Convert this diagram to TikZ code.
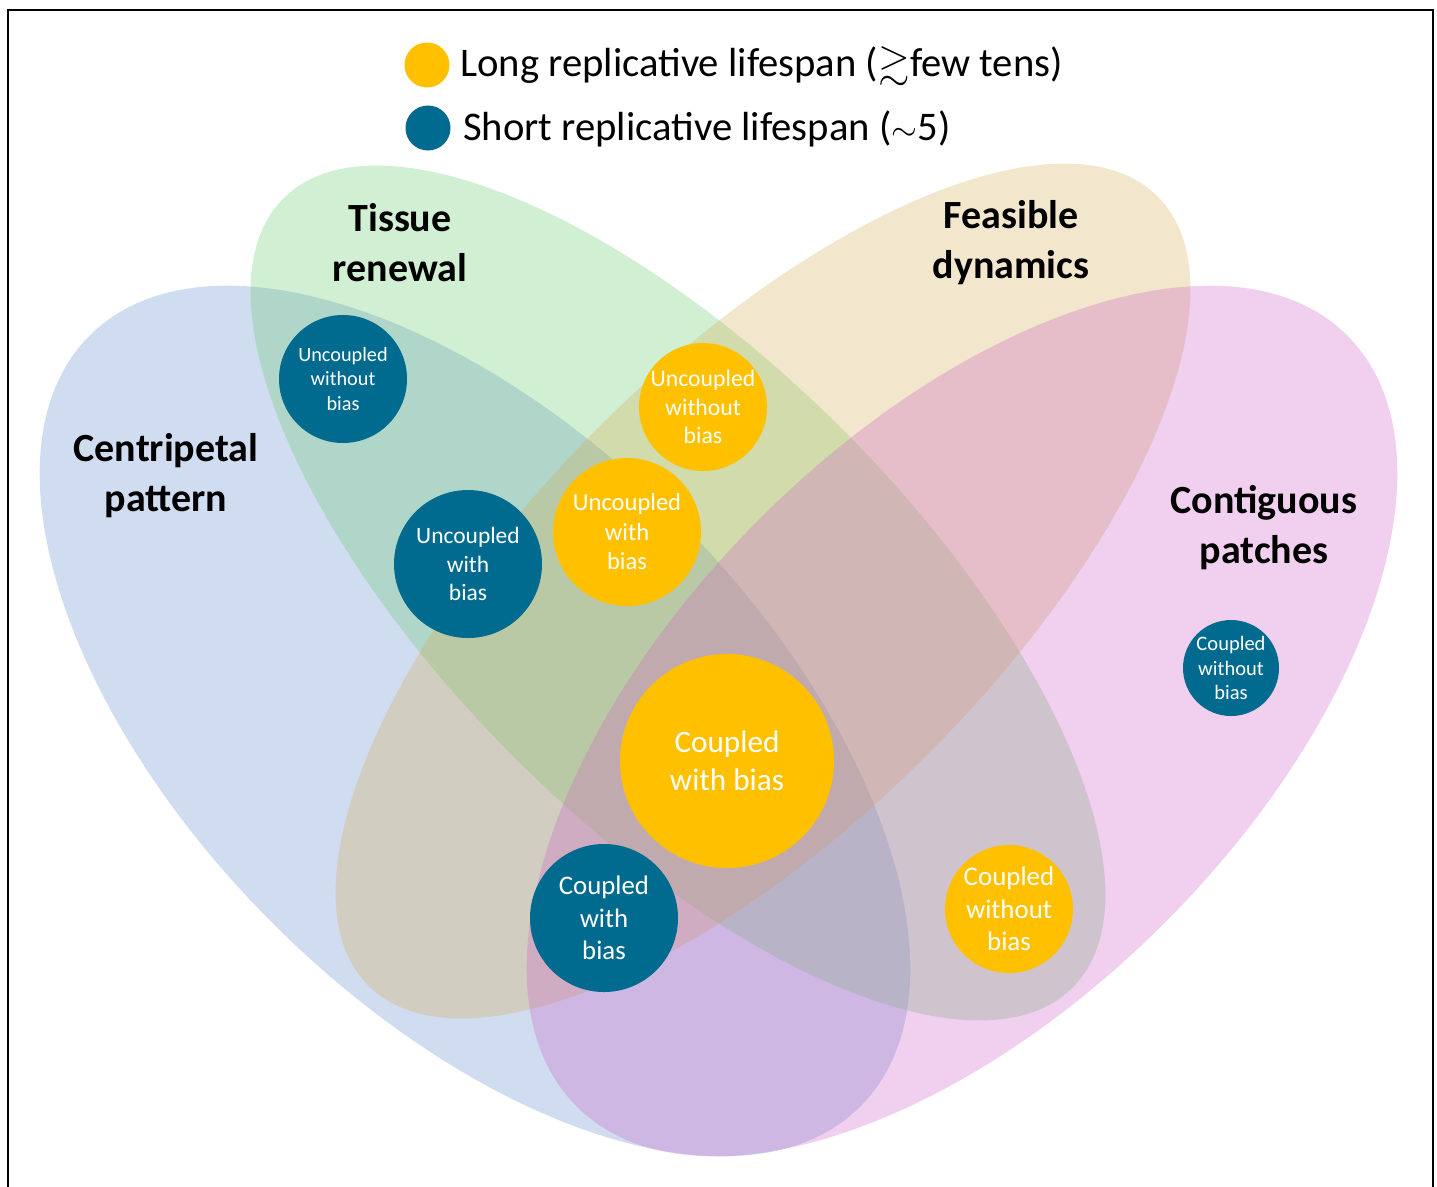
\documentclass[tikz,border=0pt]{standalone}
\usepackage{amssymb}
\usepackage{fontspec}
\setmainfont{Carlito}
\definecolor{cblue}{RGB}{98,138,205}
\definecolor{cgreen}{RGB}{102,202,108}
\definecolor{cbeige}{RGB}{212,172,85}
\definecolor{cpink}{RGB}{205,98,198}
\definecolor{dotyellow}{RGB}{255,192,0}
\definecolor{dotblue}{RGB}{0,106,143}
\tikzset{
  setfill/.style={fill=#1, fill opacity=0.3, draw=none},
  ydot/.style={circle, fill=dotyellow, draw=none, text=white, inner sep=0pt, align=center, minimum size={#1*0.75pt}},
  bdot/.style={circle, fill=dotblue, draw=none, text=white, inner sep=0pt, align=center, minimum size={#1*0.75pt}},
  setlabel/.style={align=center, font=\bfseries\fontsize{30}{37.5}\selectfont},
  legtext/.style={anchor=west, inner sep=0pt, font=\fontsize{30.5}{36}\selectfont}
}
\begin{document}
\begin{tikzpicture}[x=0.75pt,y=-0.75pt]
\useasboundingbox (0,0) rectangle (1437,1186);
\draw[line width=1.5pt] (7.5,1190) -- (7.5,9.5) -- (1432.5,9.5) -- (1432.5,1190);
% sets
\fill[setfill=cblue, rotate around={-45:(475,721)}] (475,721) ellipse [x radius=545, y radius=286];
\fill[setfill=cgreen, rotate around={-45:(678,593)}] (678,593) ellipse [x radius=558, y radius=232];
\fill[setfill=cbeige, rotate around={45:(763,591)}] (763,591) ellipse [x radius=558, y radius=232];
\fill[setfill=cpink, rotate around={45:(962,721)}] (962,721) ellipse [x radius=545, y radius=286];
% set labels
\node[setlabel] (tissue) at (400,243) {Tissue\\renewal};
\node[setlabel] (feasible) at (1011,243) {Feasible\\dynamics};
\node[setlabel] (centri) at (166,476) {Centripetal\\pattern};
\node[setlabel] (contig) at (1264,528) {Contiguous\\patches};
% legend
\node[ydot=45] (legy) at (427,65) {};
\node[bdot=45] (legb) at (428,128) {};
\node[legtext] (legyt) at (460,66) {Long replicative lifespan ($\gtrsim$few tens)};
\node[legtext] (legbt) at (463,129) {Short replicative lifespan ($\sim$5)};
% dots
\node[bdot=128, font=\fontsize{15.2}{18.4}\selectfont] (b1) at (343,379) {Uncoupled\\without\\bias};
\node[bdot=148, font=\fontsize{17.6}{21.4}\selectfont] (b2) at (468,564) {Uncoupled\\with\\bias};
\node[ydot=128, font=\fontsize{17.8}{21.4}\selectfont] (y1) at (703,407) {Uncoupled\\without\\bias};
\node[ydot=148, font=\fontsize{18.4}{22.1}\selectfont] (y2) at (627,532) {Uncoupled\\with\\bias};
\node[ydot=214, font=\fontsize{23.4}{28.5}\selectfont] (y3) at (727,761) {Coupled\\with bias};
\node[bdot=148, font=\fontsize{20.1}{24.4}\selectfont] (b3) at (604,918) {Coupled\\with\\bias};
\node[ydot=128, font=\fontsize{20.2}{24.4}\selectfont] (y4) at (1009,909) {Coupled\\without\\bias};
\node[bdot=96, font=\fontsize{15.4}{18.4}\selectfont] (b4) at (1231,668) {Coupled\\without\\bias};
\end{tikzpicture}
\end{document}
